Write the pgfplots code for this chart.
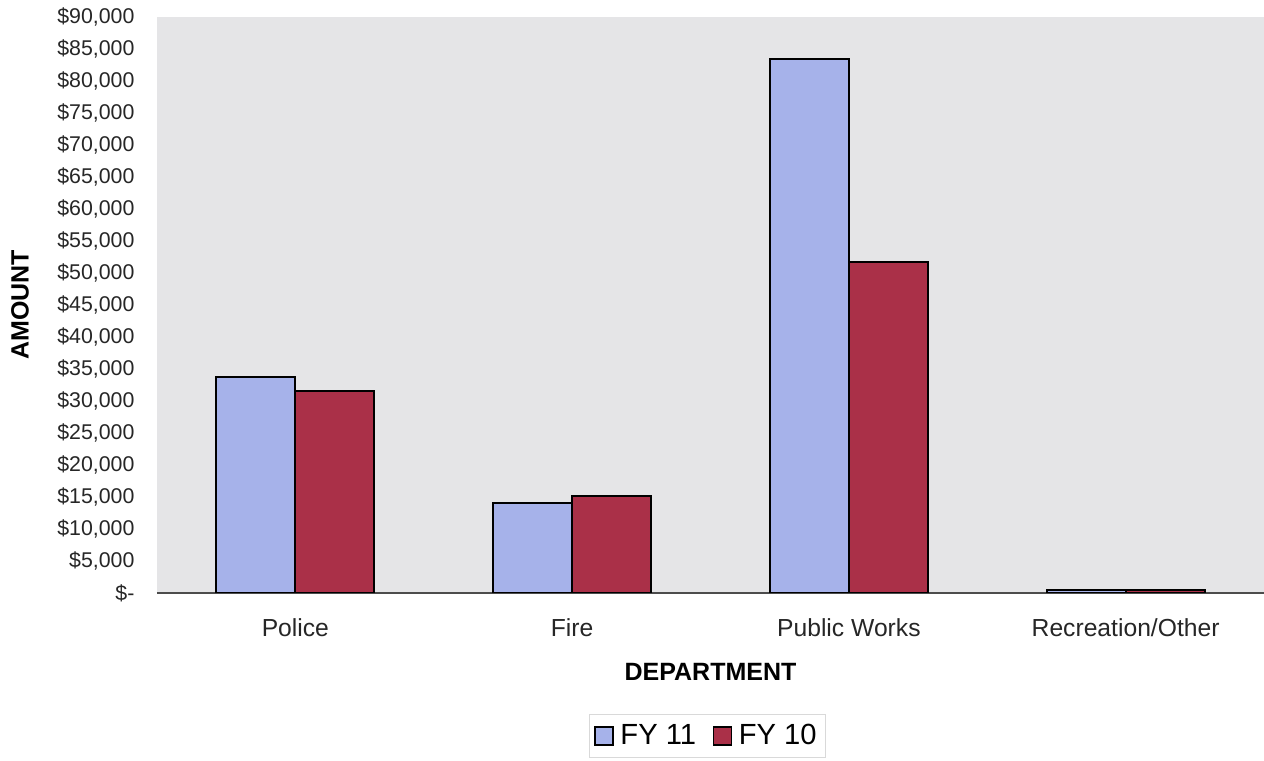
\documentclass[border=0pt]{standalone}
\usepackage{pgfplots}
\pgfplotsset{compat=1.18}
\usepackage{fontspec}
\setmainfont{Liberation Sans}
\definecolor{fyblue}{RGB}{166,178,234}
\definecolor{fyred}{RGB}{170,48,72}
\definecolor{bggrey}{RGB}{229,229,231}
\begin{document}
\begin{tikzpicture}
\useasboundingbox (-94.2pt,-100.8pt) rectangle (664.2pt,355.8pt);
\begin{axis}[
  at={(0,0)}, anchor=south west,
  scale only axis, width=664.2pt, height=345.6pt,
  ybar=0pt, bar width=47.4pt,
  xmin=-0.5, xmax=3.5, ymin=0, ymax=90000,
  axis background/.style={fill=bggrey},
  axis x line*=bottom, axis y line*=left,
  y axis line style={draw=none},
  x axis line style={draw=black!70, line width=0.8pt, -},
  major tick length=0pt,
  xtick={0,1,2,3},
  xticklabels={Police,Fire,Public Works,Recreation/Other},
  ytick={0,5000,...,90000},
  yticklabels={\$-,{\$5,000},{\$10,000},{\$15,000},{\$20,000},{\$25,000},{\$30,000},{\$35,000},{\$40,000},{\$45,000},{\$50,000},{\$55,000},{\$60,000},{\$65,000},{\$70,000},{\$75,000},{\$80,000},{\$85,000},{\$90,000}},
  yticklabel style={font=\fontsize{12.8}{14}\selectfont, text=black!85, xshift=-10pt},
  xticklabel style={font=\fontsize{14.8}{16}\selectfont, text=black!85, yshift=-12pt},
  xlabel={DEPARTMENT},
  ylabel={AMOUNT},
  xlabel style={font=\bfseries\fontsize{15}{17}\selectfont, at={(axis description cs:0.5,-0.137)}, anchor=center},
  ylabel style={font=\bfseries\fontsize{15}{17}\selectfont, at={(axis description cs:-0.1238,0.5)}, anchor=center, rotate=0},
  legend columns=2,
  legend style={at={(axis description cs:0.497,-0.248)}, anchor=center, draw=black!15, fill=white,
    font=\fontsize{17.5}{19}\selectfont, inner xsep=3pt, inner ysep=4pt,
    /tikz/every odd column/.append style={column sep=2pt},
    /tikz/every even column/.append style={column sep=8pt}},
]
\addplot[fill=fyblue, draw=black, line width=1.2pt,
  legend image code/.code={\draw[fill=fyblue, draw=black, line width=0.8pt] (0pt,-5.4pt) rectangle (10.8pt,5.4pt);}]
  coordinates {(0,33750) (1,14000) (2,83400) (3,500)};
\addlegendentry{FY 11}
\addplot[fill=fyred, draw=black, line width=1.2pt,
  legend image code/.code={\draw[fill=fyred, draw=black, line width=0.8pt] (0pt,-5.4pt) rectangle (10.8pt,5.4pt);}]
  coordinates {(0,31500) (1,15200) (2,51700) (3,500)};
\addlegendentry{FY 10}
\end{axis}
\end{tikzpicture}
\end{document}
